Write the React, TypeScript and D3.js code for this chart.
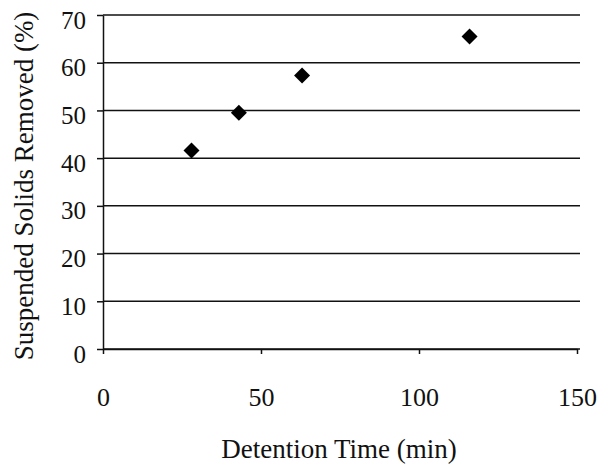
import { useEffect, useRef } from 'react';
import * as d3 from 'd3';

// detention time (min) vs suspended solids removed (%)
const detentionTime = [28, 43, 63, 116];
const solidsRemoved = [41.6, 49.5, 57.3, 65.5];
const xTicks = [0, 50, 100, 150];
const yTicks = [0, 10, 20, 30, 40, 50, 60, 70];

const W = 599;
const H = 469;

export default function App() {
  const ref = useRef<SVGSVGElement | null>(null);

  useEffect(() => {
    if (!ref.current) return;
    const svg = d3.select(ref.current);
    svg.selectAll('*').remove();

    const x = d3.scaleLinear().domain([0, 150]).range([103, 577]);
    const y = d3.scaleLinear().domain([0, 70]).range([349, 15]);
    const ink = '#111';
    const font = '"Liberation Serif", "Times New Roman", serif';

    // horizontal gridlines
    svg
      .append('g')
      .selectAll('line')
      .data(yTicks)
      .enter()
      .append('line')
      .attr('x1', x(0))
      .attr('x2', 580)
      .attr('y1', d => y(d))
      .attr('y2', d => y(d))
      .attr('stroke', ink)
      .attr('stroke-width', 1.5);

    const yAxis = svg
      .append('g')
      .attr('transform', `translate(${x(0)},0)`)
      .call(d3.axisLeft(y).tickValues(yTicks).tickSize(6).tickSizeOuter(0).tickFormat(d3.format('d')));
    yAxis.select('.domain').attr('stroke', ink).attr('stroke-width', 1.5);
    yAxis.selectAll('.tick line').attr('stroke', ink).attr('stroke-width', 1.5);
    yAxis
      .selectAll('.tick text')
      .attr('x', -17)
      .attr('dy', 13)
      .attr('fill', ink)
      .style('font-family', font)
      .style('font-size', '25px');

    const xAxis = svg
      .append('g')
      .attr('transform', `translate(0,${y(0)})`)
      .call(d3.axisBottom(x).tickValues(xTicks).tickSize(5).tickSizeOuter(0).tickFormat(d3.format('d')));
    xAxis.select('.domain').attr('stroke', ink).attr('stroke-width', 1.5);
    xAxis.selectAll('.tick line').attr('stroke', ink).attr('stroke-width', 1.5);
    xAxis
      .selectAll('.tick text')
      .attr('y', 57)
      .attr('dy', 0)
      .attr('fill', ink)
      .style('font-family', font)
      .style('font-size', '26px');

    // diamond markers
    const diamond = d3.symbol(d3.symbolSquare, 128);
    svg
      .append('g')
      .selectAll('path')
      .data(detentionTime.map((t, i) => ({ t, v: solidsRemoved[i] })))
      .enter()
      .append('path')
      .attr('d', diamond)
      .attr('transform', d => `translate(${x(d.t)},${y(d.v)}) rotate(45)`)
      .attr('fill', '#000');

    svg
      .append('text')
      .attr('x', 339)
      .attr('y', 458)
      .attr('text-anchor', 'middle')
      .attr('fill', ink)
      .style('font-family', font)
      .style('font-size', '27px')
      .text('Detention Time (min)');

    svg
      .append('text')
      .attr('transform', 'translate(33,186) rotate(-90)')
      .attr('text-anchor', 'middle')
      .attr('fill', ink)
      .style('font-family', font)
      .style('font-size', '27px')
      .text('Suspended Solids Removed (%)');
  }, []);

  return (
    <svg
      ref={ref}
      width={W}
      height={H}
      style={{ position: 'absolute', left: 0, top: 0, background: '#fff' }}
    ></svg>
  );
}
